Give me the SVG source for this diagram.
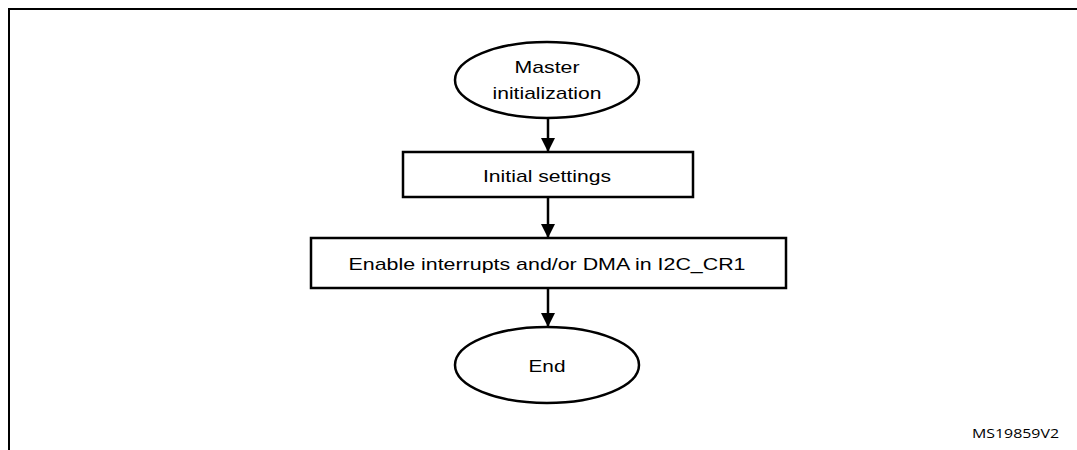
<svg xmlns="http://www.w3.org/2000/svg" width="1077" height="450" viewBox="0 0 1077 450" overflow="hidden">
<style>
.shape{fill:#fff;stroke:#000;stroke-width:2.5}
.lbl{font-family:"Liberation Sans",Arial,sans-serif;font-size:17px;fill:#000;text-anchor:middle}
.conn{stroke:#000;stroke-width:2.5;fill:none}
.ref{font-family:"Open Sans","Liberation Sans",sans-serif;font-size:13px;fill:#000}
</style>
<defs>
<marker id="arr" viewBox="0 0 14 14" refX="14" refY="7" markerWidth="14" markerHeight="14" markerUnits="userSpaceOnUse" orient="auto">
<path d="M0,0 L14,7 L0,14 Z" fill="#000"/>
</marker>
</defs>
<rect x="0" y="0" width="1077" height="450" fill="#fff"/>
<path d="M9,450 V9 H1077" fill="none" stroke="#000" stroke-width="2"/>
<g id="connectors">
<line class="conn" x1="548" y1="118" x2="548" y2="152" marker-end="url(#arr)"/>
<line class="conn" x1="548" y1="197" x2="548" y2="238" marker-end="url(#arr)"/>
<line class="conn" x1="548" y1="288" x2="548" y2="327" marker-end="url(#arr)"/>
</g>
<g id="start">
<ellipse class="shape" cx="547" cy="80" rx="92" ry="38"/>
<text class="lbl" x="547" y="73" textLength="65" lengthAdjust="spacingAndGlyphs">Master</text>
<text class="lbl" x="547" y="99" textLength="109" lengthAdjust="spacingAndGlyphs">initialization</text>
</g>
<g id="initial">
<rect class="shape" x="403" y="152" width="290" height="45"/>
<text class="lbl" x="547" y="182" textLength="128" lengthAdjust="spacingAndGlyphs">Initial settings</text>
</g>
<g id="enable">
<rect class="shape" x="311" y="238" width="475" height="50"/>
<text class="lbl" x="547" y="270" textLength="397" lengthAdjust="spacingAndGlyphs">Enable interrupts and/or DMA in I2C_CR1</text>
</g>
<g id="end">
<ellipse class="shape" cx="547" cy="365" rx="92" ry="38"/>
<text class="lbl" x="547" y="372" textLength="37" lengthAdjust="spacingAndGlyphs">End</text>
</g>
<text class="ref" x="972" y="438" textLength="87" lengthAdjust="spacingAndGlyphs">MS19859V2</text>
</svg>
